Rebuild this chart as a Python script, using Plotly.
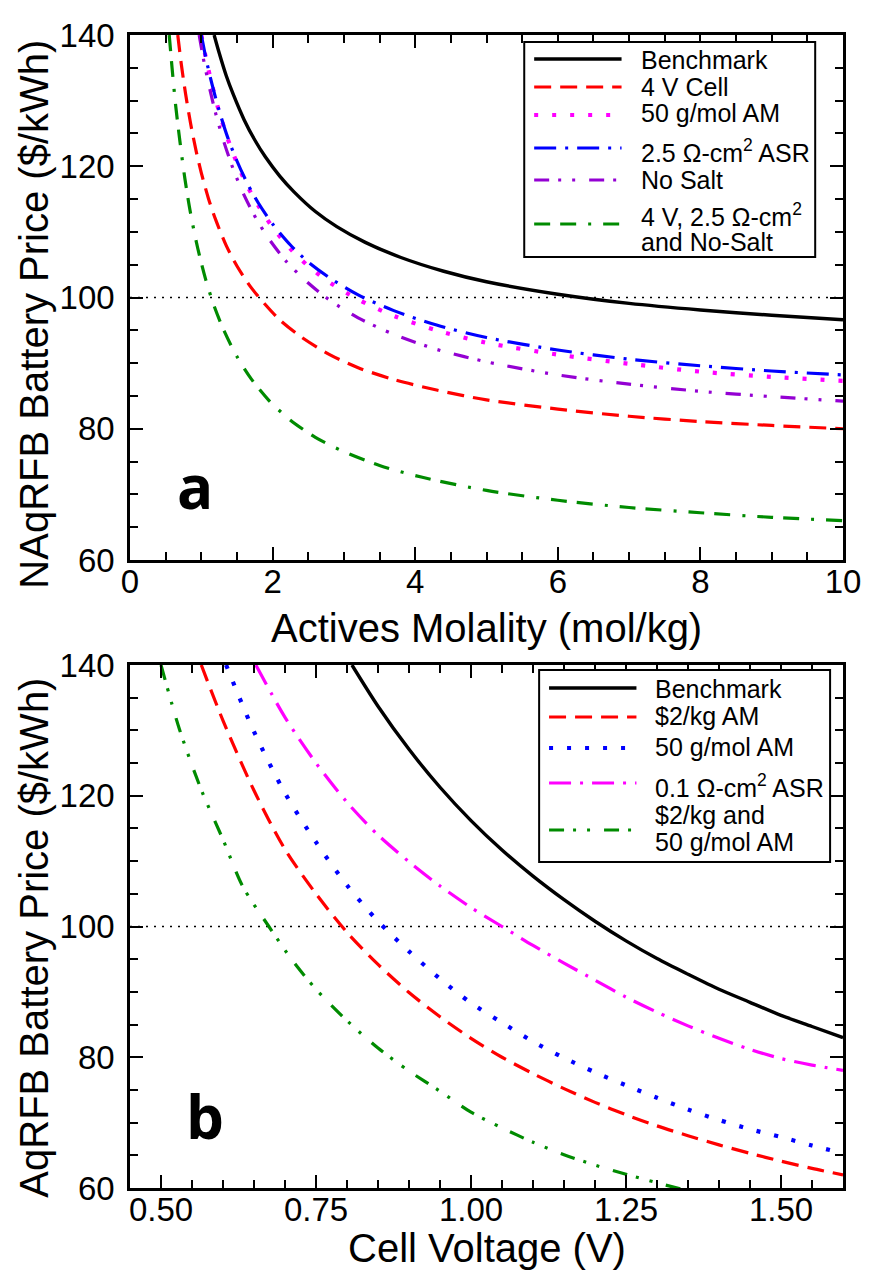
import plotly.graph_objects as go

# ---------------- panel (a): price vs actives molality ----------------
molality_bench = [1.18, 1.25, 1.35, 1.45, 1.6, 1.75, 1.9, 2.1, 2.3, 2.6, 2.9, 3.3, 3.8, 4.4, 5.0, 6.0, 7.0, 8.0, 9.0, 10.0]
price_bench_a = [140.0, 137.3, 133.8, 130.9, 127.1, 124.0, 121.4, 118.5, 116.1, 113.1, 110.8, 108.4, 106.1, 104.0, 102.4, 100.5, 99.1, 98.1, 97.3, 96.6]

molality_4v = [0.67, 0.72, 0.78, 0.85, 0.93, 1.0, 1.1, 1.2, 1.35, 1.5, 1.7, 1.9, 2.1, 2.4, 2.8, 3.2, 3.7, 4.3, 5.0, 6.0, 7.0, 8.0, 9.0, 10.0]
price_4v = [140.0, 135.5, 131.0, 126.5, 122.2, 119.0, 115.1, 111.9, 107.9, 104.8, 101.5, 98.9, 96.6, 94.0, 91.3, 89.3, 87.5, 85.9, 84.4, 83.0, 81.9, 81.1, 80.5, 80.0]

molality_50g = [1.0, 1.07, 1.15, 1.25, 1.37, 1.5, 1.65, 1.8, 2.0, 2.25, 2.5, 2.8, 3.2, 3.7, 4.3, 5.0, 6.0, 7.0, 8.0, 9.0, 10.0]
price_50g_a = [140.0, 136.2, 132.4, 128.3, 124.2, 120.5, 116.9, 114.0, 110.7, 107.4, 104.8, 102.3, 99.7, 97.2, 95.0, 93.1, 91.3, 89.9, 88.7, 87.9, 87.3]

molality_asr = [1.0, 1.07, 1.15, 1.25, 1.37, 1.5, 1.65, 1.8, 2.0, 2.25, 2.5, 2.8, 3.2, 3.7, 4.3, 5.0, 6.0, 7.0, 8.0, 9.0, 10.0]
price_asr = [140.0, 136.2, 132.5, 128.5, 124.4, 120.8, 117.3, 114.4, 111.2, 108.0, 105.4, 103.0, 100.4, 98.0, 95.8, 93.9, 92.0, 90.6, 89.6, 88.8, 88.2]

molality_nosalt = [0.97, 1.04, 1.12, 1.21, 1.32, 1.45, 1.6, 1.77, 1.95, 2.2, 2.5, 2.8, 3.2, 3.7, 4.3, 5.0, 6.0, 7.0, 8.0, 9.0, 10.0]
price_nosalt = [140.0, 135.8, 131.7, 127.7, 123.6, 119.5, 115.6, 112.0, 108.9, 105.4, 102.2, 99.6, 96.9, 94.4, 92.1, 90.2, 88.2, 86.8, 85.7, 84.9, 84.2]

molality_combo = [0.55, 0.59, 0.64, 0.7, 0.77, 0.85, 0.95, 1.06, 1.18, 1.32, 1.5, 1.7, 1.95, 2.25, 2.6, 3.0, 3.5, 4.1, 5.0, 6.0, 7.0, 8.0, 9.0, 10.0]
price_combo_a = [140.0, 135.0, 129.3, 123.8, 118.1, 112.8, 107.5, 102.8, 98.7, 94.9, 91.0, 87.6, 84.3, 81.3, 78.7, 76.5, 74.4, 72.6, 70.6, 69.1, 68.0, 67.2, 66.5, 66.0]

# ---------------- panel (b): price vs cell voltage ----------------
volt_bench = [0.808, 0.85, 0.9, 0.95, 1.0, 1.05, 1.1, 1.15, 1.2, 1.25, 1.3, 1.35, 1.4, 1.45, 1.5, 1.55, 1.6]
price_bench_b = [140.0, 133.7, 127.1, 121.3, 116.2, 111.7, 107.7, 104.1, 100.8, 97.8, 95.1, 92.7, 90.4, 88.4, 86.4, 84.7, 83.0]

volt_2kg = [0.565, 0.6, 0.65, 0.7, 0.75, 0.8, 0.85, 0.9, 0.95, 1.0, 1.05, 1.1, 1.15, 1.2, 1.25, 1.3, 1.35, 1.4, 1.45, 1.5, 1.55, 1.6]
price_2kg = [140.0, 131.5, 120.8, 111.8, 105.0, 99.1, 94.2, 89.9, 86.2, 82.9, 80.0, 77.5, 75.2, 73.1, 71.2, 69.5, 68.0, 66.6, 65.3, 64.1, 63.0, 62.0]

volt_50g = [0.605, 0.65, 0.7, 0.75, 0.8, 0.85, 0.9, 0.95, 1.0, 1.05, 1.1, 1.15, 1.2, 1.25, 1.3, 1.35, 1.4, 1.45, 1.5, 1.55, 1.6]
price_50g_b = [140.0, 129.8, 120.4, 112.9, 106.3, 100.8, 96.2, 92.0, 88.3, 85.3, 82.4, 79.9, 77.7, 75.7, 73.8, 72.0, 70.4, 69.0, 67.8, 66.5, 65.3]

volt_lowasr = [0.653, 0.7, 0.75, 0.8, 0.85, 0.9, 0.95, 1.0, 1.05, 1.1, 1.15, 1.2, 1.25, 1.3, 1.35, 1.4, 1.45, 1.5, 1.55, 1.6]
price_lowasr = [140.0, 132.0, 125.0, 119.0, 114.0, 109.9, 106.2, 102.9, 100.0, 97.1, 94.4, 91.8, 89.2, 86.9, 84.8, 82.9, 81.2, 79.8, 78.8, 78.0]

volt_combo = [0.50, 0.53, 0.565, 0.6, 0.632, 0.674, 0.712, 0.75, 0.8, 0.85, 0.9, 0.95, 1.0, 1.05, 1.1, 1.15, 1.2, 1.25, 1.3, 1.34]
price_combo_b = [140.0, 130.1, 120.9, 113.3, 106.1, 100.0, 94.8, 90.4, 85.6, 81.4, 77.9, 74.8, 71.6, 69.2, 67.0, 65.1, 63.5, 62.1, 60.8, 59.8]

TARGET = 100.0  # $/kWh reference level

BLACK = "#000000"
RED = "#ff0000"
MAGENTA = "#ff00ff"
BLUE = "#0000ff"
VIOLET = "#9400d3"
GREEN = "#008b00"

DASH = "17px,9px"
DOTS = "4px,14px"
DASHDOT = "22px,9px,3px,9px"
DASHDOTDOT = "15px,9px,3px,11px,3px,14px"
DASHDASHDOT = "16px,10px,16px,12px,3px,12px"

# figure geometry (pixels)
W, H = 873, 1270
ML, MR, MT, MB = 130, 25, 35, 82
PW, PH = W - ML - MR, H - MT - MB


def fx(p):
    return (p - ML) / PW


def fy(p):
    return 1 - (p - MT) / PH


fig = go.Figure()


def curve(x, y, color, dash, width, xa, ya):
    fig.add_trace(go.Scatter(
        x=x, y=y, mode="lines", xaxis=xa, yaxis=ya,
        line=dict(color=color, dash=dash, width=width, shape="spline", smoothing=0.8),
        hoverinfo="skip", showlegend=False))


# reference price level
fig.add_trace(go.Scatter(x=[0, 10], y=[TARGET, TARGET], mode="lines", xaxis="x", yaxis="y",
                         line=dict(color=BLACK, width=1.6, dash="2px,6px"),
                         hoverinfo="skip", showlegend=False))
fig.add_trace(go.Scatter(x=[0.45, 1.6], y=[TARGET, TARGET], mode="lines", xaxis="x2", yaxis="y2",
                         line=dict(color=BLACK, width=1.6, dash="2px,6px"),
                         hoverinfo="skip", showlegend=False))

curve(molality_bench, price_bench_a, BLACK, "solid", 3.4, "x", "y")
curve(molality_4v, price_4v, RED, DASH, 3.2, "x", "y")
curve(molality_50g, price_50g_a, MAGENTA, DOTS, 4.2, "x", "y")
curve(molality_asr, price_asr, BLUE, DASHDOT, 3.2, "x", "y")
curve(molality_nosalt, price_nosalt, VIOLET, DASHDOTDOT, 3.2, "x", "y")
curve(molality_combo, price_combo_a, GREEN, DASHDASHDOT, 3.2, "x", "y")

curve(volt_bench, price_bench_b, BLACK, "solid", 3.4, "x2", "y2")
curve(volt_2kg, price_2kg, RED, DASH, 3.2, "x2", "y2")
curve(volt_50g, price_50g_b, BLUE, DOTS, 4.2, "x2", "y2")
curve(volt_lowasr, price_lowasr, MAGENTA, DASHDOT, 3.2, "x2", "y2")
curve(volt_combo, price_combo_b, GREEN, DASHDOTDOT, 3.2, "x2", "y2")

FONT = "Liberation Sans, Arial, Helvetica, sans-serif"

axis_common = dict(
    showline=True, linecolor=BLACK, linewidth=2.5, mirror="allticks",
    ticks="inside", ticklen=13, tickwidth=2, tickcolor=BLACK,
    showgrid=False, zeroline=False,
    tickfont=dict(family=FONT, size=33, color=BLACK),
)
minor_x = dict(ticks="inside", ticklen=8, tickwidth=2, tickcolor=BLACK)

fig.update_layout(
    width=W, height=H,
    margin=dict(l=ML, r=MR, t=MT, b=MB),
    paper_bgcolor="white", plot_bgcolor="white",
    font=dict(family=FONT, color=BLACK),
    xaxis=dict(domain=[0, 1], anchor="y", range=[0, 10], tick0=0, dtick=2,
               minor=dict(dtick=0.5, **minor_x), ticklabelstandoff=-9, **axis_common),
    yaxis=dict(domain=[fy(560), 1], anchor="x", range=[60, 140], tick0=60, dtick=20,
               minor=dict(dtick=5, **minor_x), ticklabelstandoff=6, **axis_common),
    xaxis2=dict(domain=[0, 1], anchor="y2", range=[0.45, 1.6], tick0=0.5, dtick=0.25,
                tickformat=".2f", minor=dict(dtick=0.05, **minor_x),
                ticklabelstandoff=-9, **axis_common),
    yaxis2=dict(domain=[0, fy(665)], anchor="x2", range=[60, 140], tick0=60, dtick=20,
                minor=dict(dtick=5, **minor_x), ticklabelstandoff=6, **axis_common),
)

shapes = []
annotations = []


def text(x, y, s, size, **kw):
    annotations.append(dict(xref="paper", yref="paper", x=fx(x), y=fy(y), text=s,
                            showarrow=False, font=dict(family=kw.pop("family", FONT), size=size, color=BLACK),
                            xanchor=kw.pop("xanchor", "left"), yanchor=kw.pop("yanchor", "middle"), **kw))


def legend_box(x0, y0, x1, y1):
    shapes.append(dict(type="rect", xref="paper", yref="paper", x0=fx(x0), x1=fx(x1), y0=fy(y0), y1=fy(y1),
                       line=dict(color=BLACK, width=2), fillcolor="white", layer="above"))


def legend_line(x0, x1, y, color, dash, width):
    shapes.append(dict(type="line", xref="paper", yref="paper", x0=fx(x0), x1=fx(x1), y0=fy(y), y1=fy(y),
                       line=dict(color=color, dash=dash, width=width), layer="above"))


LEG = 25

# legend of panel (a)
legend_box(527, 42, 820, 257)
ax0, ax1, atx = 537, 625, 643
legend_line(ax0, ax1, 59, BLACK, "solid", 3.4)
text(atx, 60, "Benchmark", LEG)
legend_line(ax0, ax1, 87, RED, DASH, 3.2)
text(atx, 87, "4 V Cell", LEG)
legend_line(ax0, ax1, 115, MAGENTA, DOTS, 4.2)
text(atx, 113, "50 g/mol AM", LEG)
legend_line(ax0, ax1, 148, BLUE, DASHDOT, 3.2)
text(atx, 151, "2.5 Ω-cm<sup>2</sup> ASR", LEG)
legend_line(ax0, ax1, 180, VIOLET, DASHDOTDOT, 3.2)
text(atx, 180, "No Salt", LEG)
legend_line(ax0, ax1, 224, GREEN, DASHDASHDOT, 3.2)
text(atx, 215, "4 V, 2.5 Ω-cm<sup>2</sup>", LEG)
text(atx, 242, "and No-Salt", LEG)

# legend of panel (b)
legend_box(542, 670, 835, 862)
bx0, bx1, btx = 552, 640, 657
legend_line(bx0, bx1, 688, BLACK, "solid", 3.4)
text(btx, 689, "Benchmark", LEG)
legend_line(bx0, bx1, 717, RED, DASH, 3.2)
text(btx, 716, "$2/kg AM", LEG)
legend_line(bx0, bx1, 748, BLUE, DOTS, 4.2)
text(btx, 747, "50 g/mol AM", LEG)
legend_line(bx0, bx1, 783, MAGENTA, DASHDOT, 3.2)
text(btx, 786, "0.1 Ω-cm<sup>2</sup> ASR", LEG)
legend_line(bx0, bx1, 830, GREEN, DASHDOTDOT, 3.2)
text(btx, 815, "$2/kg and", LEG)
text(btx, 842, "50 g/mol AM", LEG)

# axis titles
TITLE = 40
text(489, 628, "Actives Molality (mol/kg)", TITLE, xanchor="center")
text(489, 1248, "Cell Voltage (V)", TITLE, xanchor="center")
text(33, 314, "NAqRFB Battery Price ($/kWh)", TITLE, xanchor="center", textangle=-90)
text(33, 938, "AqRFB Battery Price ($/kWh)", TITLE, xanchor="center", textangle=-90)

# panel letters
text(195, 486, "<b>a</b>", 60, xanchor="center", family="Open Sans, DejaVu Sans, sans-serif")
text(206, 1116, "<b>b</b>", 60, xanchor="center", family="Open Sans, DejaVu Sans, sans-serif")

fig.update_layout(shapes=shapes, annotations=annotations)

fig.write_html("out.html")
